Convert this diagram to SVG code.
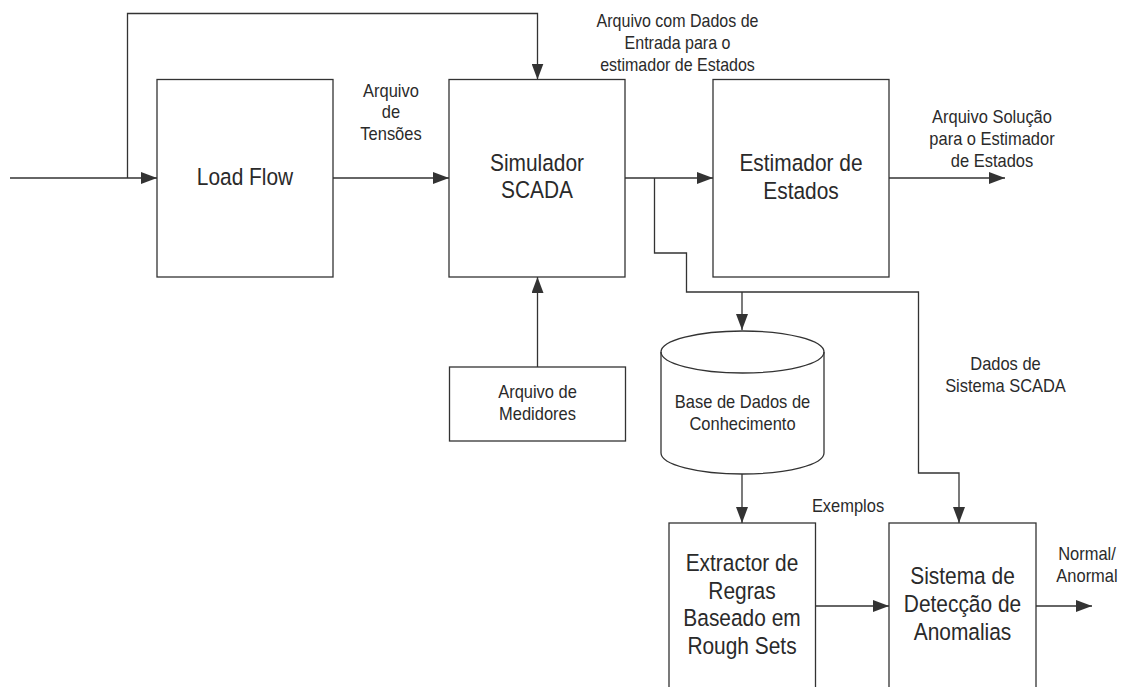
<svg xmlns="http://www.w3.org/2000/svg" width="1131" height="687" viewBox="0 0 1131 687">
<style>
.box{fill:#fff;stroke:#333;stroke-width:1.3}
.ln{fill:none;stroke:#333;stroke-width:1.3}
text{font-family:"Liberation Sans",Arial,sans-serif;fill:#2a2a2a;text-anchor:middle}
.big{font-size:23.5px}
.sm{font-size:18.5px}
</style>
<defs>
<marker id="ah" markerUnits="userSpaceOnUse" markerWidth="16" markerHeight="12" refX="16" refY="6" orient="auto">
<path d="M0,0 L16,6 L0,12 z" fill="#333"/>
</marker>
</defs>
<rect width="1131" height="687" fill="#fff"/>
<g id="connectors">
<path class="ln" d="M10,178 H157" marker-end="url(#ah)"/>
<path class="ln" d="M127.5,178 V13.5 H537.5 V79.5" marker-end="url(#ah)"/>
<path class="ln" d="M333,178 H449" marker-end="url(#ah)"/>
<path class="ln" d="M537.5,367 V277" marker-end="url(#ah)"/>
<path class="ln" d="M625,178 H713" marker-end="url(#ah)"/>
<path class="ln" d="M889,178 H1005" marker-end="url(#ah)"/>
<path class="ln" d="M654.5,178 V253 H686.5 V292 H918.5 V473 H959 V523" marker-end="url(#ah)"/>
<path class="ln" d="M742,292 V330" marker-end="url(#ah)"/>
<path class="ln" d="M742,474 V523" marker-end="url(#ah)"/>
<path class="ln" d="M815.5,606 H889" marker-end="url(#ah)"/>
<path class="ln" d="M1036,606 H1092" marker-end="url(#ah)"/>
</g>
<g id="labels">
<text class="sm" transform="translate(391,97) scale(0.89,1)"><tspan x="0" y="0">Arquivo</tspan><tspan x="0" y="21.5">de</tspan><tspan x="0" y="43">Tensões</tspan></text>
<text class="sm" style="font-size:18px" transform="translate(677.5,27) scale(0.89,1)"><tspan x="0" y="0">Arquivo com Dados de</tspan><tspan x="0" y="22">Entrada para o</tspan><tspan x="0" y="44">estimador de Estados</tspan></text>
<text class="sm" transform="translate(992,123) scale(0.89,1)"><tspan x="0" y="0">Arquivo Solução</tspan><tspan x="0" y="22">para o Estimador</tspan><tspan x="0" y="44">de Estados</tspan></text>
<text class="sm" transform="translate(1005.5,370) scale(0.89,1)"><tspan x="0" y="0">Dados de</tspan><tspan x="0" y="22">Sistema SCADA</tspan></text>
<text class="sm" transform="translate(848,512) scale(0.89,1)">Exemplos</text>
<text class="sm" transform="translate(1087,560) scale(0.89,1)"><tspan x="0" y="0">Normal/</tspan><tspan x="0" y="22">Anormal</tspan></text>
</g>
<g id="load-flow">
<rect class="box" x="157" y="79.5" width="176" height="197.5"/>
<text class="big" transform="translate(245,185) scale(0.89,1)">Load Flow</text>
</g>
<g id="simulador-scada">
<rect class="box" x="449" y="79.5" width="176" height="197.5"/>
<text class="big" transform="translate(537,170.5) scale(0.89,1)"><tspan x="0" y="0">Simulador</tspan><tspan x="0" y="28">SCADA</tspan></text>
</g>
<g id="estimador">
<rect class="box" x="713" y="79.5" width="176" height="197.5"/>
<text class="big" transform="translate(801,171) scale(0.89,1)"><tspan x="0" y="0">Estimador de</tspan><tspan x="0" y="28">Estados</tspan></text>
</g>
<g id="medidores">
<rect class="box" x="449.5" y="367" width="176" height="74"/>
<text class="sm" transform="translate(537.5,398) scale(0.89,1)"><tspan x="0" y="0">Arquivo de</tspan><tspan x="0" y="22">Medidores</tspan></text>
</g>
<g id="base-dados">
<path class="box" d="M661,352 V453 A81.5,21 0 0 0 824,453 V352 A81.5,21 0 0 0 661,352 Z"/>
<path class="ln" d="M661,352 A81.5,21 0 0 0 824,352"/>
<text class="sm" transform="translate(742.5,408) scale(0.89,1)"><tspan x="0" y="0">Base de Dados de</tspan><tspan x="0" y="22">Conhecimento</tspan></text>
</g>
<g id="extractor">
<rect class="box" x="669" y="523" width="146.5" height="180"/>
<text class="big" transform="translate(742,571) scale(0.89,1)"><tspan x="0" y="0">Extractor de</tspan><tspan x="0" y="27.7">Regras</tspan><tspan x="0" y="55.4">Baseado em</tspan><tspan x="0" y="83">Rough Sets</tspan></text>
</g>
<g id="deteccao">
<rect class="box" x="889" y="523" width="147" height="180"/>
<text class="big" transform="translate(962.5,584) scale(0.89,1)"><tspan x="0" y="0">Sistema de</tspan><tspan x="0" y="28">Detecção de</tspan><tspan x="0" y="56">Anomalias</tspan></text>
</g>
</svg>
